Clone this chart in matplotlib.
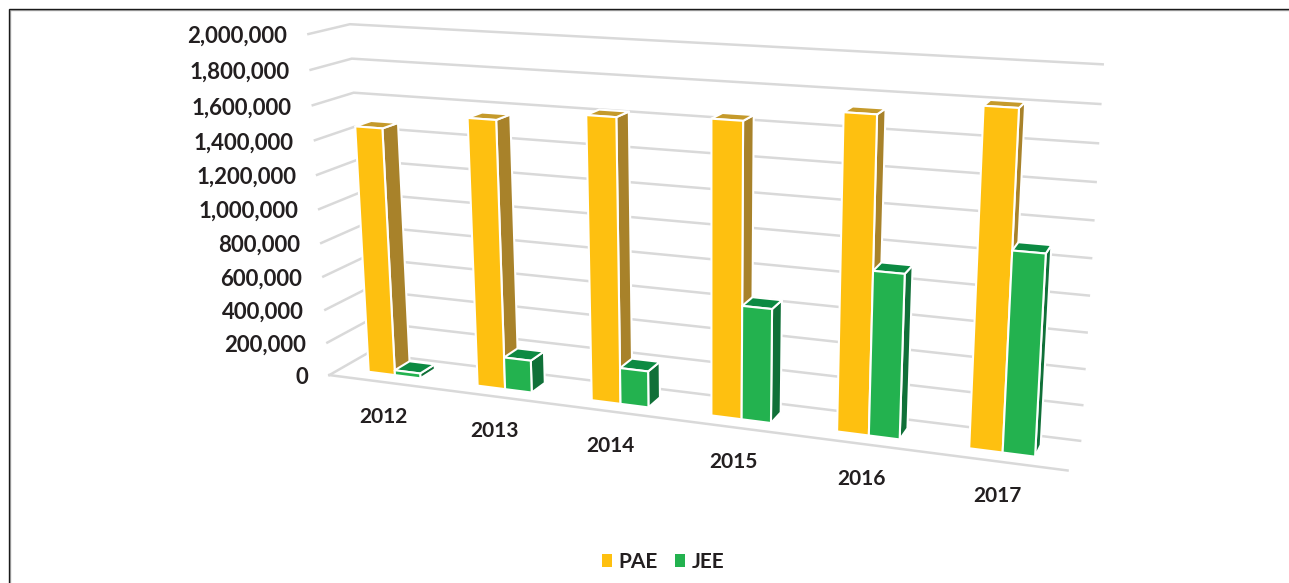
"""plot.py - PAE vs JEE candidates, drawn as a 3D-look column chart."""

import matplotlib

matplotlib.use("Agg")
import matplotlib.pyplot as plt
import numpy as np
from matplotlib.patches import Patch, Polygon

plt.rcParams["font.family"] = ["Lato", "DejaVu Sans"]

years = ["2012", "2013", "2014", "2015", "2016", "2017"]
pae = [1468000, 1563000, 1625000, 1652000, 1732000, 1810000]
jee = [30000, 191000, 211000, 646000, 910000, 1085000]
ticks = [0, 200000, 400000, 600000, 800000, 1000000, 1200000, 1400000, 1600000, 1800000, 2000000]
VMAX = 2000000

W, H = 1289, 583
TEXT = "#231f20"
GRID = "#d9d9d9"
PAE_COLS = ("#fec010", "#a8822a", "#c59a2b")  # front, side, top
JEE_COLS = ("#23b24f", "#107038", "#0c8a42")

# chart box corners: (category pos, value fraction, depth) -> pixel
BOX = [
    ((0, 0, 0), (329.3, 375.0)),
    ((0, 0, 1), (368.0, 353.0)),
    ((6, 0, 1), (1080.0, 441.0)),
    ((6, 0, 0), (1067.7, 470.3)),
    ((0, 1, 0), (308.3, 34.3)),
    ((0, 1, 1), (350.0, 24.0)),
    ((6, 1, 1), (1102.7, 64.3)),
]


def fit_camera(box):
    """3x4 projective matrix from the box corners (DLT)."""
    rows = []
    for (u, v, d), (px, py) in box:
        p = [u, v, d, 1]
        rows.append(p + [0, 0, 0, 0] + [-px * c for c in p])
        rows.append([0, 0, 0, 0] + p + [-py * c for c in p])
    return np.linalg.svd(np.array(rows, float))[2][-1].reshape(3, 4)


CAM = fit_camera(BOX)


def proj(u, val, d):
    """Category pos, data value and depth to pixel coordinates."""
    x, y, s = CAM @ np.array([u, val / VMAX, d, 1.0])
    return x / s, y / s


def draw_bar(ax, u0, u1, val, cols, d0=0.3, d1=0.7):
    front = [proj(u0, 0, d0), proj(u1, 0, d0), proj(u1, val, d0), proj(u0, val, d0)]
    side = [proj(u1, 0, d0), proj(u1, 0, d1), proj(u1, val, d1), proj(u1, val, d0)]
    top = [proj(u0, val, d0), proj(u1, val, d0), proj(u1, val, d1), proj(u0, val, d1)]
    for pts, col in ((side, cols[1]), (top, cols[2]), (front, cols[0])):
        ax.add_patch(Polygon(pts, closed=True, facecolor=col, edgecolor="white", lw=1.5, joinstyle="round", zorder=3))


def main():
    fig = plt.figure(figsize=(W / 100, H / 100), dpi=100)
    ax = fig.add_axes([0, 0, 1, 1])
    ax.set_xlim(0, W)
    ax.set_ylim(H, 0)
    ax.axis("off")

    # picture frame, top and left only
    ax.plot([9.5, 9.5, W], [H, 9.5, 9.5], color="#b0b0b0", lw=1, solid_joinstyle="miter")
    ax.plot([8.8, 8.8, W], [H, 8.6, 8.6], color="#1a1a1a", lw=1, solid_joinstyle="miter")

    # side wall and back wall gridlines
    for t in ticks:
        pts = [proj(0, t, 0), proj(0, t, 1), proj(6, t, 1)]
        ax.plot(*zip(*pts), color=GRID, lw=1.8, solid_joinstyle="miter")
        x, y = proj(0, t, 0)
        ax.text(x - 21, y + 2.5, f"{t:,}", ha="right", va="center", fontsize=16, fontweight="bold", color=TEXT)
    ax.plot(*zip(proj(0, 0, 0), proj(6, 0, 0)), color=GRID, lw=1.8)

    for i, year in enumerate(years):
        draw_bar(ax, i + 0.26, i + 0.505, pae[i], PAE_COLS)
        draw_bar(ax, i + 0.505, i + 0.74, jee[i], JEE_COLS)
        x, y = proj(i + 0.5, 0, 0)
        ax.text(x, y + 35, year, ha="center", va="center", fontsize=15, fontweight="bold", color=TEXT)

    handles = [Patch(facecolor=PAE_COLS[0], label="PAE"), Patch(facecolor=JEE_COLS[0], label="JEE")]
    ax.legend(
        handles=handles,
        loc="center",
        bbox_to_anchor=(663 / W, 1 - 562 / H),
        ncol=2,
        frameon=False,
        handlelength=0.5,
        handleheight=0.55,
        handletextpad=0.3,
        columnspacing=0.8,
        prop={"size": 15, "weight": "bold"},
        labelcolor=TEXT,
    )

    fig.savefig("out.png", dpi=100)
    plt.close(fig)


if __name__ == "__main__":
    main()
